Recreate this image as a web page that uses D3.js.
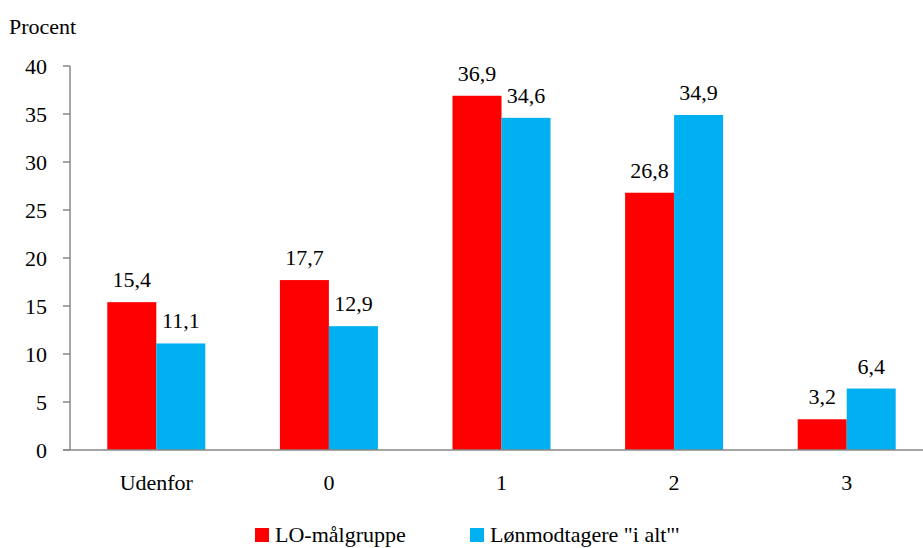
<!DOCTYPE html>
<html>
<head>
<meta charset="utf-8">
<script src="https://cdn.jsdelivr.net/npm/d3@7"></script>
</head>
<body style="margin:0">
<script>
"use strict";

var categories = ["Udenfor", "0", "1", "2", "3"];
var seriesNames = ["LO-målgruppe", "Lønmodtagere \"i alt\"'"];
var loValues = [15.4, 17.7, 36.9, 26.8, 3.2];
var allValues = [11.1, 12.9, 34.6, 34.9, 6.4];
var yTicks = [0, 5, 10, 15, 20, 25, 30, 35, 40];
var colors = ["#ff0000", "#00b0f0"];

var width = 923, height = 548;
var svg = d3.select("body").append("svg")
    .attr("width", width).attr("height", height);

var x = d3.scaleBand().domain(categories).range([70, 933]).paddingInner(0).paddingOuter(0);
var y = d3.scaleLinear().domain([0, 40]).range([450, 66]);
var barW = 49;

function label(sel) {
    sel.style("font-family", "'Liberation Serif', 'Times New Roman', serif")
        .style("font-size", "22px");
}

// y axis
svg.append("line")
    .attr("x1", 70).attr("x2", 70)
    .attr("y1", y(0)).attr("y2", y(40))
    .attr("stroke", "#888").attr("stroke-width", 1.5);

var yt = svg.append("g").selectAll("g").data(yTicks).enter().append("g");
yt.append("line")
    .attr("x1", 63).attr("x2", 70)
    .attr("y1", d => y(d)).attr("y2", d => y(d))
    .attr("stroke", "#888").attr("stroke-width", 1.5);
yt.append("text")
    .attr("x", 47).attr("y", d => y(d) + 8)
    .attr("text-anchor", "end")
    .call(label)
    .text(d => d);

svg.append("text").attr("x", 9).attr("y", 34).call(label).text("Procent");

// bars, two per category
var rows = categories.map((c, i) => ({ cat: c, vals: [loValues[i], allValues[i]] }));
var grp = svg.append("g").selectAll("g").data(rows).enter().append("g");

grp.each(function (d) {
    var g = d3.select(this);
    var cx = x(d.cat) + x.bandwidth() / 2;
    d.vals.forEach(function (v, j) {
        var x0 = cx - barW + j * barW;
        g.append("rect")
            .attr("x", x0).attr("width", barW)
            .attr("y", y(v)).attr("height", y(0) - y(v))
            .attr("fill", colors[j]);
        g.append("text")
            .attr("x", x0 + barW / 2).attr("y", y(v) - 15)
            .attr("text-anchor", "middle")
            .call(label)
            .text(String(v).replace(".", ","));
    });
});

// baseline
svg.append("line")
    .attr("x1", 63).attr("x2", 923)
    .attr("y1", y(0)).attr("y2", y(0))
    .attr("stroke", "#888").attr("stroke-width", 1.5);

// category labels
svg.append("g").selectAll("text").data(categories).enter().append("text")
    .attr("x", d => x(d) + x.bandwidth() / 2).attr("y", 490)
    .attr("text-anchor", "middle")
    .call(label)
    .text(d => d);

// legend
var legendX = [255, 470];
var leg = svg.append("g").selectAll("g").data(seriesNames).enter().append("g");
leg.append("rect")
    .attr("x", (d, i) => legendX[i]).attr("y", 528)
    .attr("width", 14).attr("height", 14)
    .attr("fill", (d, i) => colors[i]);
leg.append("text")
    .attr("x", (d, i) => legendX[i] + 20).attr("y", 542)
    .call(label)
    .text(d => d);
</script>
</body>
</html>
